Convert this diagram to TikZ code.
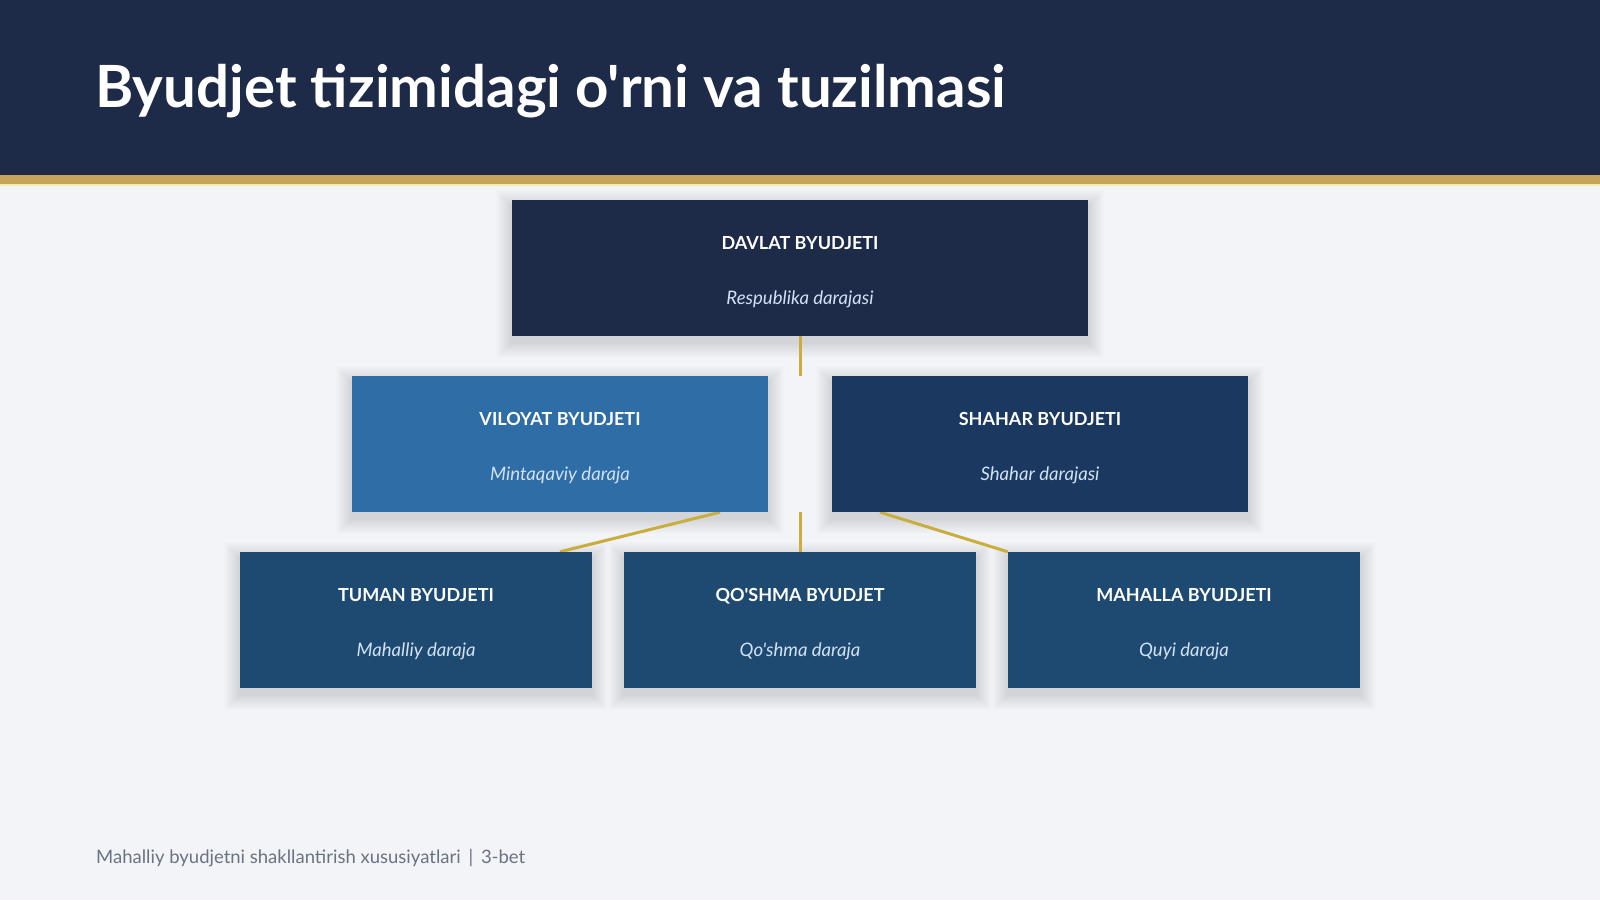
\documentclass[tikz,border=0pt]{standalone}
\usepackage{fontspec}
\setmainfont{Lato}[Ligatures=TeXOff]
\definecolor{bgc}{HTML}{F2F4F8}
\definecolor{hdr}{HTML}{1D2B48}
\definecolor{goldc}{HTML}{C6A55A}
\definecolor{paleY}{HTML}{F1ECB0}
\definecolor{linec}{HTML}{C9AE3E}
\definecolor{c1}{HTML}{1D2A48}
\definecolor{c2}{HTML}{2E6DA5}
\definecolor{c3}{HTML}{1B3860}
\definecolor{c4}{HTML}{1E4A72}
\definecolor{subc}{HTML}{D2E2F6}
\definecolor{footc}{HTML}{6B7280}
\pgfdeclarelayer{back}
\pgfdeclarelayer{shd}
\pgfdeclarelayer{lines}
\pgfsetlayers{back,shd,lines,main}
\begin{document}
\begin{tikzpicture}[x=1pt,y=-1pt,
  box/.style={rectangle, inner sep=0pt, draw=none},
  lvla/.style={box, fill=c1, minimum width=576pt, minimum height=136pt},
  lvlb/.style={box, minimum width=416pt, minimum height=136pt},
  lvlc/.style={box, fill=c4, minimum width=352pt, minimum height=136pt},
  ttl/.style={anchor=base, text=white, font=\bfseries\fontsize{18}{20}\selectfont, inner sep=0pt},
  sub/.style={anchor=base, text=subc, font=\itshape\fontsize{18.6}{20}\selectfont, inner sep=0pt},
  conn/.style={draw=linec, line width=3pt},
  shadowlayer/.style={fill=black, opacity=0.0065}]
\useasboundingbox (0,0) rectangle (1600,900);
\begin{pgfonlayer}{back}
\fill[bgc] (0,0) rectangle (1600,900);
\fill[hdr] (0,0) rectangle (1600,175);
\fill[goldc] (0,175) rectangle (1600,184);
\fill[paleY] (0,184) rectangle (1600,186);
\end{pgfonlayer}
\node[anchor=base west, inner sep=0pt, text=white, font=\bfseries\fontsize{58.2}{70}\selectfont] (title) at (95,107) {Byudjet tizimidagi o'rni va tuzilmasi};

% boxes
\node[lvla] (davlat) at (800,268) {};
\node[lvlb, fill=c2] (viloyat) at (560,444) {};
\node[lvlb, fill=c3] (shahar) at (1040,444) {};
\node[lvlc] (tuman) at (416,620) {};
\node[lvlc] (qoshma) at (800,620) {};
\node[lvlc] (mahalla) at (1184,620) {};

% soft shadows
\begin{pgfonlayer}{shd}
\foreach \n in {davlat,viloyat,shahar,tuman,qoshma,mahalla}{
  \foreach \k in {1,...,16}{
    \fill[shadowlayer] ([xshift=-\k pt, yshift=\k pt-6pt]\n.north west) rectangle ([xshift=\k pt, yshift=-\k pt-6pt]\n.south east);
  }
}
\end{pgfonlayer}

% connectors
\coordinate (j1) at (800,376);
\coordinate (j2) at (800,512);
\begin{pgfonlayer}{lines}
\draw[conn] (davlat.south) -- (j1);
\draw[conn] (j2) -- (qoshma.north);
\draw[conn] ([xshift=160pt]viloyat.south) -- ([xshift=144pt]tuman.north);
\draw[conn] ([xshift=-160pt]shahar.south) -- (mahalla.north west);
\end{pgfonlayer}

\foreach \n/\t/\s in {davlat/DAVLAT BYUDJETI/Respublika darajasi,
  viloyat/VILOYAT BYUDJETI/Mintaqaviy daraja,
  shahar/SHAHAR BYUDJETI/Shahar darajasi,
  tuman/TUMAN BYUDJETI/Mahalliy daraja,
  qoshma/QO'SHMA BYUDJET/Qo'shma daraja,
  mahalla/MAHALLA BYUDJETI/Quyi daraja}{
  \node[ttl] (\n-t) at ([yshift=-50pt]\n.north) {\t};
  \node[sub] (\n-s) at ([yshift=-105pt]\n.north) {\s};
}

\node[anchor=base west, inner sep=0pt, text=footc, font=\fontsize{18.5}{20}\selectfont] (foot) at (96,863) {Mahalliy byudjetni shakllantirish xususiyatlari \,|\, 3-bet};
\end{tikzpicture}
\end{document}
